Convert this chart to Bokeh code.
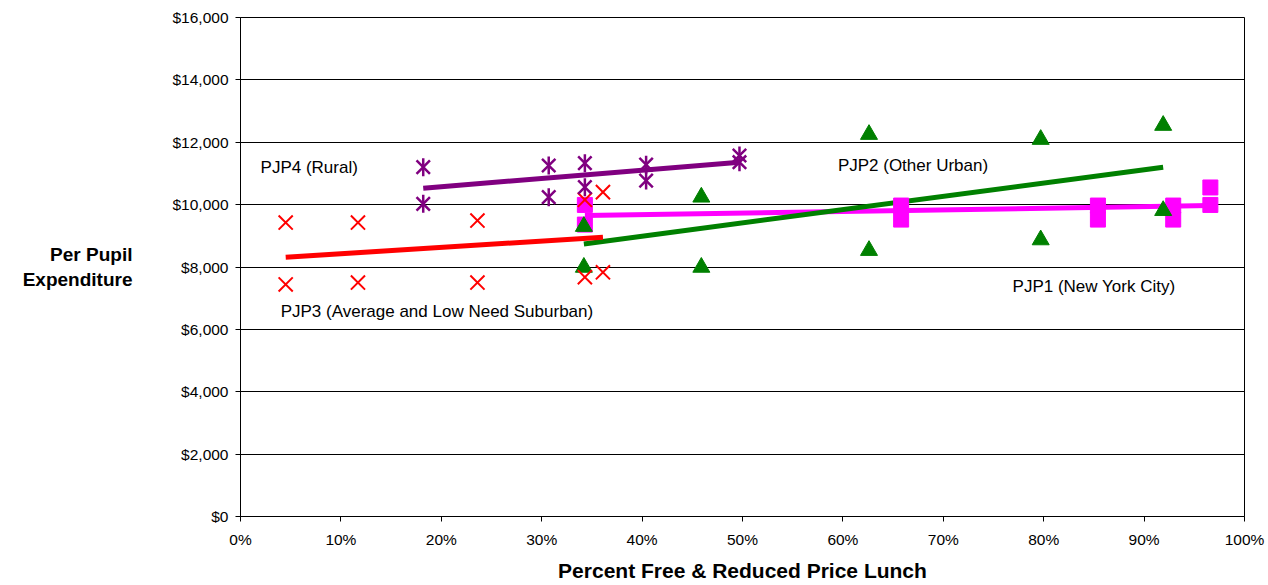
import numpy as np
from bokeh.plotting import figure
from bokeh.models import Range1d, FixedTicker, NumeralTickFormatter, Label
from bokeh.embed import file_html
from bokeh.resources import INLINE

# ---- data (fraction free/reduced lunch, per pupil expenditure $) ----
pjp1_x = [0.343, 0.343, 0.658, 0.658, 0.854, 0.854, 0.929, 0.929, 0.966, 0.966]
pjp1_y = [9990, 9360, 9970, 9520, 9970, 9520, 9970, 9520, 10550, 9990]
pjp1_trend_x = [0.343, 0.966]
pjp1_trend_y = [9650, 9970]

pjp2_x = [0.342, 0.342, 0.459, 0.459, 0.626, 0.626, 0.797, 0.797, 0.919, 0.919]
pjp2_y = [9300, 7990, 10240, 7990, 12250, 8530, 12090, 8870, 12540, 9810]
pjp2_trend_x = [0.342, 0.919]
pjp2_trend_y = [8740, 11200]

pjp3_x = [0.045, 0.045, 0.117, 0.117, 0.236, 0.236, 0.343, 0.343, 0.361, 0.361]
pjp3_y = [9426, 7440, 9426, 7500, 9490, 7500, 10155, 7672, 10400, 7830]
pjp3_trend_x = [0.045, 0.361]
pjp3_trend_y = [8313, 8955]

pjp4_x = [0.182, 0.182, 0.307, 0.307, 0.343, 0.343, 0.404, 0.404, 0.497, 0.497]
pjp4_y = [11200, 10026, 11254, 10240, 11330, 10560, 11280, 10770, 11575, 11360]
pjp4_trend_x = [0.182, 0.497]
pjp4_trend_y = [10527, 11360]

x_ticks = [0.0, 0.1, 0.2, 0.3, 0.4, 0.5, 0.6, 0.7, 0.8, 0.9, 1.0]
y_ticks = [0, 2000, 4000, 6000, 8000, 10000, 12000, 14000, 16000]

FONT = "Liberation Sans"

p = figure(width=1268, height=585, output_backend="svg", toolbar_location=None,
           x_range=Range1d(0, 1), y_range=Range1d(0, 16000),
           min_border_left=240, min_border_right=24, min_border_top=17, min_border_bottom=69)

p.background_fill_color = "white"
p.border_fill_color = "white"
p.outline_line_color = "black"
p.outline_line_width = 1

p.xgrid.grid_line_color = None
p.ygrid.grid_line_color = "black"
p.ygrid.grid_line_width = 1
p.ygrid.ticker = FixedTicker(ticks=y_ticks)

p.xaxis.ticker = FixedTicker(ticks=x_ticks)
p.yaxis.ticker = FixedTicker(ticks=y_ticks)
p.xaxis.formatter = NumeralTickFormatter(format="0%")
p.yaxis.formatter = NumeralTickFormatter(format="$0,0")

for ax in (p.xaxis, p.yaxis):
    ax.axis_line_color = "black"
    ax.major_tick_line_color = "black"
    ax.major_tick_in = 0
    ax.major_tick_out = 5
    ax.minor_tick_line_color = None
    ax.major_label_text_font = FONT
    ax.major_label_text_font_size = "15.5px"
    ax.major_label_text_color = "black"
    ax.axis_label_text_font = FONT
    ax.axis_label_text_font_style = "bold"
    ax.axis_label_text_color = "black"

p.xaxis.major_label_standoff = 9
p.yaxis.major_label_standoff = 7

p.xaxis.axis_label = "Percent Free & Reduced Price Lunch"
p.xaxis.axis_label_text_font_size = "21px"
p.xaxis.axis_label_standoff = 8

p.yaxis.axis_label = "Per Pupil\nExpenditure"
p.yaxis.axis_label_orientation = "horizontal"
p.yaxis.axis_label_text_font_size = "19px"
p.yaxis.axis_label_text_align = "center"
p.yaxis.axis_label_standoff = 37

# trend lines
p.line(pjp1_trend_x, pjp1_trend_y, line_color="#FF00FF", line_width=5)
p.line(pjp2_trend_x, pjp2_trend_y, line_color="#008000", line_width=5)
p.line(pjp3_trend_x, pjp3_trend_y, line_color="#FF0000", line_width=5)
p.line(pjp4_trend_x, pjp4_trend_y, line_color="#800080", line_width=5)

# markers
p.scatter(pjp1_x, pjp1_y, marker="square", size=15, fill_color="#FF00FF", line_color="#FF00FF")
p.scatter(pjp2_x, pjp2_y, marker="triangle", size=17, fill_color="#008000", line_color="#008000")
p.scatter(pjp3_x, pjp3_y, marker="x", size=20, line_color="#FF0000", line_width=2)
p.scatter(pjp4_x, pjp4_y, marker="x", size=19, line_color="#800080", line_width=2.5)
p.scatter(pjp4_x, pjp4_y, marker="dash", size=18, angle=np.pi / 2, line_color="#800080", line_width=2.5)

# series annotations
for txt, lx, ly in [("PJP4 (Rural)", 0.02, 11190),
                    ("PJP3 (Average and Low Need Suburban)", 0.04, 6573),
                    ("PJP2 (Other Urban)", 0.595, 11254),
                    ("PJP1 (New York City)", 0.769, 7374)]:
    p.add_layout(Label(x=lx, y=ly, text=txt, text_font=FONT, text_font_size="17px",
                       text_color="black", text_align="left", text_baseline="middle"))

open("out.html", "w").write(file_html(p, INLINE))
